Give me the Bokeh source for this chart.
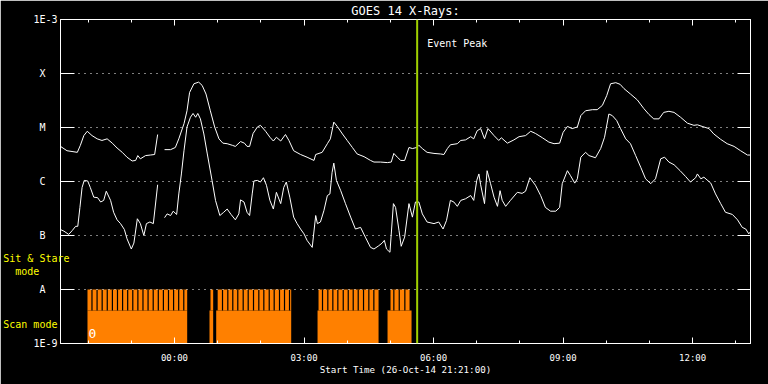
from bokeh.plotting import figure
from bokeh.models import FixedTicker, LinearAxis, LogAxis, Span, Label
from bokeh.embed import file_html
from bokeh.resources import INLINE

nan = float("nan")

# ---- axes definitions (time in hours from 27-Oct-2014 00:00 UT) ----
x_start, x_end = -2.64, 13.34
hour_ticks = [0, 3, 6, 9, 12]
hour_labels = ["00:00", "03:00", "06:00", "09:00", "12:00"]
hour_minor = [-2, -1, 1, 2, 4, 5, 7, 8, 10, 11, 13]

flux_ticks = [1e-9, 1e-8, 1e-7, 1e-6, 1e-5, 1e-4, 1e-3]
flux_labels = ["1E-9", "A", "B", "C", "M", "X", "1E-3"]
grid_levels = [1e-8, 1e-7, 1e-6, 1e-5, 1e-4]

# instrument-mode legend texts, at their flux positions
mode_ticks = [10 ** -7.435, 10 ** -7.667, 10 ** -8.639]
mode_labels = ["Sit & Stare", "mode", "Scan mode"]

# ---- GOES long channel (1-8 A), log10 flux ----
long_t = [-2.64, -2.49, -2.25, -2.18, -2.10, -2.02, -1.91, -1.79, -1.68, -1.56, -1.44, -1.33,
          -1.21, -1.10, -0.98, -0.90, -0.85, -0.79, -0.67, -0.56, -0.46, -0.39, nan,
          -0.23, -0.09, 0.02, 0.10, 0.22, 0.29, 0.35, 0.45, 0.56, 0.64, 0.73, 0.83, 0.93, 1.03,
          1.12, 1.22, 1.34, 1.41, 1.53, 1.62, 1.68, 1.74, 1.82, 1.92, 1.99, 2.11, 2.21, 2.29,
          2.36, 2.46, 2.57, 2.65, 2.76, 2.92, 3.07, 3.23, 3.27, 3.42, 3.54, 3.61, 3.69, 3.77,
          3.89, 4.00, 4.12, 4.23, 4.39, 4.54, 4.62, 4.77, 4.93, 5.02, 5.08, 5.16, 5.24, 5.33,
          5.43, 5.51, 5.61, 5.66, 5.74, 5.85, 6.01, 6.16, 6.24, 6.32, 6.39, 6.55, 6.63, 6.74,
          6.86, 6.93, 7.01, 7.09, 7.18, 7.26, 7.40, 7.51, 7.57, 7.71, 7.86, 7.98, 8.13, 8.25,
          8.36, 8.52, 8.67, 8.79, 8.92, 9.00, 9.10, 9.21, 9.33, 9.41, 9.52, 9.68, 9.79, 9.91,
          10.01, 10.10, 10.22, 10.32, 10.41, 10.56, 10.72, 10.87, 10.99, 11.10, 11.22, 11.33,
          11.45, 11.57, 11.72, 11.88, 12.03, 12.11, 12.22, 12.38, 12.49, 12.65, 12.80, 12.96,
          13.11, 13.27, 13.35]
long_logflux = [-5.35, -5.43, -5.46, -5.33, -5.15, -5.07, -5.15, -5.21, -5.24, -5.21, -5.29, -5.38,
                -5.46, -5.55, -5.62, -5.61, -5.52, -5.58, -5.52, -5.51, -5.50, -5.13, nan,
                -5.41, -5.41, -5.37, -5.21, -4.93, -4.69, -4.35, -4.19, -4.16, -4.22, -4.38, -4.69,
                -4.99, -5.21, -5.29, -5.30, -5.33, -5.35, -5.26, -5.29, -5.35, -5.35, -5.11, -4.99,
                -4.96, -5.07, -5.18, -5.25, -5.18, -5.25, -5.13, -5.24, -5.43, -5.50, -5.55, -5.61,
                -5.50, -5.46, -5.30, -5.21, -4.90, -4.98, -5.12, -5.24, -5.37, -5.49, -5.54, -5.61,
                -5.64, -5.64, -5.65, -5.64, -5.48, -5.55, -5.61, -5.61, -5.37, -5.39, -5.37, -5.33,
                -5.39, -5.46, -5.48, -5.49, -5.50, -5.39, -5.32, -5.30, -5.24, -5.23, -5.17, -5.21,
                -5.06, -5.02, -5.21, -5.02, -5.15, -5.24, -5.19, -5.29, -5.23, -5.17, -5.15, -5.07,
                -5.11, -5.19, -5.27, -5.30, -5.29, -5.09, -4.98, -5.02, -4.99, -4.78, -4.69, -4.67,
                -4.67, -4.59, -4.41, -4.19, -4.17, -4.20, -4.28, -4.38, -4.49, -4.65, -4.76, -4.84,
                -4.84, -4.72, -4.70, -4.72, -4.81, -4.92, -4.96, -4.95, -4.98, -5.02, -5.12, -5.22,
                -5.30, -5.35, -5.43, -5.51, -5.51]

# ---- GOES short channel (0.5-4 A), log10 flux ----
short_t = [-2.64, -2.56, -2.45, -2.37, -2.29, -2.24, -2.19, -2.14, -2.09, -2.01, -1.95, -1.87,
           -1.78, -1.71, -1.64, -1.58, -1.48, -1.41, -1.33, -1.25, -1.16, -1.10, -1.00, -0.94,
           -0.86, -0.79, -0.71, -0.65, -0.57, -0.49, -0.39, nan,
           -0.23, -0.17, -0.09, -0.03, 0.05, 0.10, 0.16, 0.22, 0.29, 0.37, 0.43, 0.49, 0.54,
           0.60, 0.68, 0.76, 0.87, 0.95, 1.05, 1.14, 1.22, 1.31, 1.41, 1.49, 1.53, 1.61, 1.68,
           1.74, 1.80, 1.84, 1.92, 1.99, 2.06, 2.13, 2.21, 2.29, 2.36, 2.46, 2.53, 2.59, 2.67,
           2.76, 2.84, 2.92, 3.00, 3.07, 3.19, 3.27, 3.31, 3.38, 3.46, 3.54, 3.60, 3.65, 3.69,
           3.75, 3.85, 3.96, 4.08, 4.19, 4.31, 4.42, 4.54, 4.62, 4.73, 4.81, 4.86, 4.91, 4.99,
           5.07, 5.12, 5.20, 5.25, 5.33, 5.43, 5.51, 5.58, 5.66, 5.74, 5.85, 6.01, 6.12, 6.22,
           6.30, 6.39, 6.47, 6.55, 6.63, 6.74, 6.86, 6.93, 7.00, 7.05, 7.09, 7.18, 7.24, 7.32,
           7.40, 7.48, 7.54, 7.59, 7.67, 7.78, 7.94, 8.05, 8.13, 8.23, 8.36, 8.48, 8.59, 8.71,
           8.83, 8.92, 8.98, 9.10, 9.17, 9.27, 9.33, 9.41, 9.52, 9.60, 9.75, 9.87, 9.96, 10.06,
           10.14, 10.24, 10.33, 10.45, 10.56, 10.68, 10.80, 10.91, 11.03, 11.14, 11.26, 11.35,
           11.45, 11.57, 11.71, 11.84, 11.95, 12.07, 12.11, 12.19, 12.26, 12.42, 12.53, 12.65,
           12.76, 12.92, 13.04, 13.15, 13.23, 13.30, 13.35]
short_logflux = [-6.89, -6.92, -6.98, -6.91, -6.83, -6.83, -6.48, -6.11, -5.98, -5.99, -6.11, -6.29,
                 -6.30, -6.38, -6.35, -6.18, -6.35, -6.57, -6.71, -6.78, -6.89, -7.06, -7.25, -7.14,
                 -6.69, -6.78, -7.00, -6.78, -6.75, -6.78, -6.06, nan,
                 -6.67, -6.60, -6.63, -6.55, -6.61, -6.23, -5.86, -5.43, -4.99, -4.81, -4.74, -4.81,
                 -4.74, -4.84, -5.12, -5.49, -5.98, -6.35, -6.63, -6.57, -6.51, -6.61, -6.71, -6.60,
                 -6.34, -6.38, -6.57, -6.63, -6.23, -5.99, -5.98, -6.01, -5.93, -6.07, -6.35, -6.51,
                 -6.20, -6.41, -6.11, -6.01, -6.29, -6.66, -6.78, -6.88, -6.97, -7.09, -7.22, -6.63,
                 -6.78, -6.75, -6.54, -6.26, -6.23, -5.83, -5.66, -5.98, -6.17, -6.41, -6.66, -6.88,
                 -6.85, -7.03, -7.22, -7.25, -7.19, -7.14, -7.09, -7.25, -7.31, -6.41, -6.48, -6.91,
                 -7.20, -7.03, -6.41, -6.66, -6.38, -6.38, -6.60, -6.75, -6.78, -6.75, -6.88, -6.72,
                 -6.35, -6.38, -6.46, -6.35, -6.32, -6.26, -6.35, -5.98, -5.86, -6.06, -6.41, -5.80,
                 -6.04, -6.29, -6.46, -6.17, -6.35, -6.46, -6.35, -6.20, -6.22, -6.18, -5.93, -6.07,
                 -6.26, -6.48, -6.55, -6.55, -6.48, -6.04, -5.80, -5.89, -6.03, -5.95, -5.55, -5.46,
                 -5.52, -5.56, -5.39, -5.18, -4.75, -4.78, -4.87, -5.02, -5.21, -5.30, -5.52, -5.74,
                 -5.95, -6.04, -5.95, -5.58, -5.55, -5.64, -5.69, -5.80, -5.91, -6.01, -5.93, -5.86,
                 -5.95, -5.92, -6.03, -6.23, -6.41, -6.57, -6.61, -6.71, -6.85, -6.88, -6.97, -6.92]

# ---- instrument mode bars (hours) ----
mode_floor = 1e-9
scan_level = 4.1e-9
stare_level = 1e-8
scan_start = [-2.015, 0.811, 0.966, 3.313, 4.934]
scan_end = [0.294, 0.896, 2.703, 4.726, 5.490]
stare_start = [-2.015, 0.834, 1.000, 3.336, 5.003]
stare_end = [0.294, 0.896, 2.703, 4.726, 5.444]
stare_gaps = [-1.911, -1.793, -1.675, -1.557, -1.438, -1.320, -1.202, -1.084, -0.966, -0.848,
              -0.730, -0.612, -0.493, -0.375, -0.257, -0.139, -0.021, 0.097, 0.215,
              1.112, 1.235, 1.350, 1.466, 1.591, 1.707, 1.830, 1.953, 2.069, 2.194, 2.309,
              2.432, 2.548, 2.664,
              3.428, 3.551, 3.667, 3.783, 3.908, 4.024, 4.139, 4.255, 4.378, 4.501, 4.617,
              5.080, 5.205, 5.335]

event_peak = 5.62

MONO = "DejaVu Sans Mono"
WHITE = "white"
YELLOW = "#ffff00"
ORANGE = "#ff8000"
NBSP = "\u00a0"

p = figure(width=768, height=384, x_range=(x_start, x_end), y_range=(1e-9, 1e-3),
           y_axis_type="log", output_backend="svg", toolbar_location=None,
           background_fill_color="black", border_fill_color="black",
           outline_line_color=WHITE, outline_line_width=1,
           min_border_left=60, min_border_right=18, min_border_top=19, min_border_bottom=41)

# title
p.title.text = "GOES 14 X-Rays:"
p.title.align = "center"
p.title.text_font = MONO
p.title.text_font_size = "12px"
p.title.text_font_style = "normal"
p.title.text_color = WHITE
p.title.standoff = 3

# bottom axis
ax = p.xaxis[0]
ax.ticker = FixedTicker(ticks=hour_ticks, minor_ticks=hour_minor)
ax.major_label_overrides = dict(zip(hour_ticks, hour_labels))
ax.axis_label = "Start Time (26-Oct-14 21:21:00)"
ax.axis_label_text_font = MONO
ax.axis_label_text_font_size = "9.2px"
ax.axis_label_text_font_style = "normal"
ax.axis_label_text_color = WHITE
ax.axis_label_standoff = -2
ax.major_label_text_font = MONO
ax.major_label_text_font_size = "9px"
ax.major_label_text_color = WHITE
ax.major_label_standoff = 9
ax.axis_line_color = WHITE
ax.major_tick_line_color = WHITE
ax.minor_tick_line_color = WHITE
ax.major_tick_in = 6
ax.major_tick_out = 0
ax.minor_tick_in = 3
ax.minor_tick_out = 0

# top axis (ticks only)
top = LinearAxis(ticker=FixedTicker(ticks=hour_ticks, minor_ticks=hour_minor),
                 major_label_overrides={t: "" for t in hour_ticks},
                 major_label_text_font_size="0px", major_label_standoff=0,
                 axis_line_color=WHITE, major_tick_line_color=WHITE, minor_tick_line_color=WHITE,
                 major_tick_in=6, major_tick_out=0, minor_tick_in=3, minor_tick_out=0)
p.add_layout(top, "above")

# left axis: flux class labels
ay = p.yaxis[0]
ay.ticker = FixedTicker(ticks=flux_ticks)
padded = [lab if lab.startswith("1E") else lab + NBSP * 2 for lab in flux_labels]
ay.major_label_overrides = dict(zip(flux_ticks, padded))
ay.major_label_text_font = MONO
ay.major_label_text_font_size = "10px"
ay.major_label_text_color = WHITE
ay.major_label_standoff = 3
ay.axis_line_color = WHITE
ay.major_tick_line_color = WHITE
ay.minor_tick_line_color = None
ay.major_tick_in = 14
ay.major_tick_out = 0

# outer left axis: yellow instrument-mode texts (no ticks, no line)
mode_padded = ["Sit & Stare", "mode" + NBSP * 5, "Scan mode" + NBSP * 2]
mode_axis = LogAxis(ticker=FixedTicker(ticks=mode_ticks),
                    major_label_overrides=dict(zip(mode_ticks, mode_padded)),
                    major_label_text_font=MONO, major_label_text_font_size="10px",
                    major_label_text_color=YELLOW, major_label_standoff=-39,
                    axis_line_color=None, major_tick_line_color=None, minor_tick_line_color=None,
                    major_tick_in=0, major_tick_out=0)
p.add_layout(mode_axis, "left")

# right axis (ticks only)
right = LogAxis(ticker=FixedTicker(ticks=flux_ticks),
                major_label_overrides={t: "" for t in flux_ticks},
                major_label_text_font_size="0px", major_label_standoff=0,
                axis_line_color=WHITE, major_tick_line_color=WHITE, minor_tick_line_color=None,
                major_tick_in=13, major_tick_out=0)
p.add_layout(right, "right")

# grid
p.xgrid.visible = False
p.ygrid.ticker = FixedTicker(ticks=grid_levels)
p.ygrid.grid_line_color = WHITE
p.ygrid.grid_line_dash = "1 5"
p.ygrid.grid_line_width = 1
p.ygrid.level = "overlay"

# mode bars
p.quad(left=scan_start, right=scan_end, bottom=mode_floor, top=scan_level,
       fill_color=ORANGE, line_color=None)
p.quad(left=stare_start, right=stare_end, bottom=scan_level, top=stare_level,
       fill_color=ORANGE, line_color=None)
p.segment(x0=stare_gaps, x1=stare_gaps, y0=[scan_level] * len(stare_gaps),
          y1=[stare_level] * len(stare_gaps), line_color="black", line_width=1.2)

# GOES curves
p.line(long_t, [10 ** v for v in long_logflux], line_color=WHITE, line_width=1)
p.line(short_t, [10 ** v for v in short_logflux], line_color=WHITE, line_width=1)

# event peak
p.add_layout(Span(location=event_peak, dimension="height", line_color="#a0d000", line_width=2))
p.add_layout(Label(x=event_peak, y=10 ** -3.444, x_offset=10, text="Event Peak",
                   text_color=WHITE, text_font=MONO, text_font_size="10px",
                   text_baseline="middle"))
p.add_layout(Label(x=-1.99, y=10 ** -8.815, text="0", text_color=WHITE,
                   text_font=MONO, text_font_size="13px", text_baseline="middle"))

open("out.html", "w").write(file_html(p, INLINE))
